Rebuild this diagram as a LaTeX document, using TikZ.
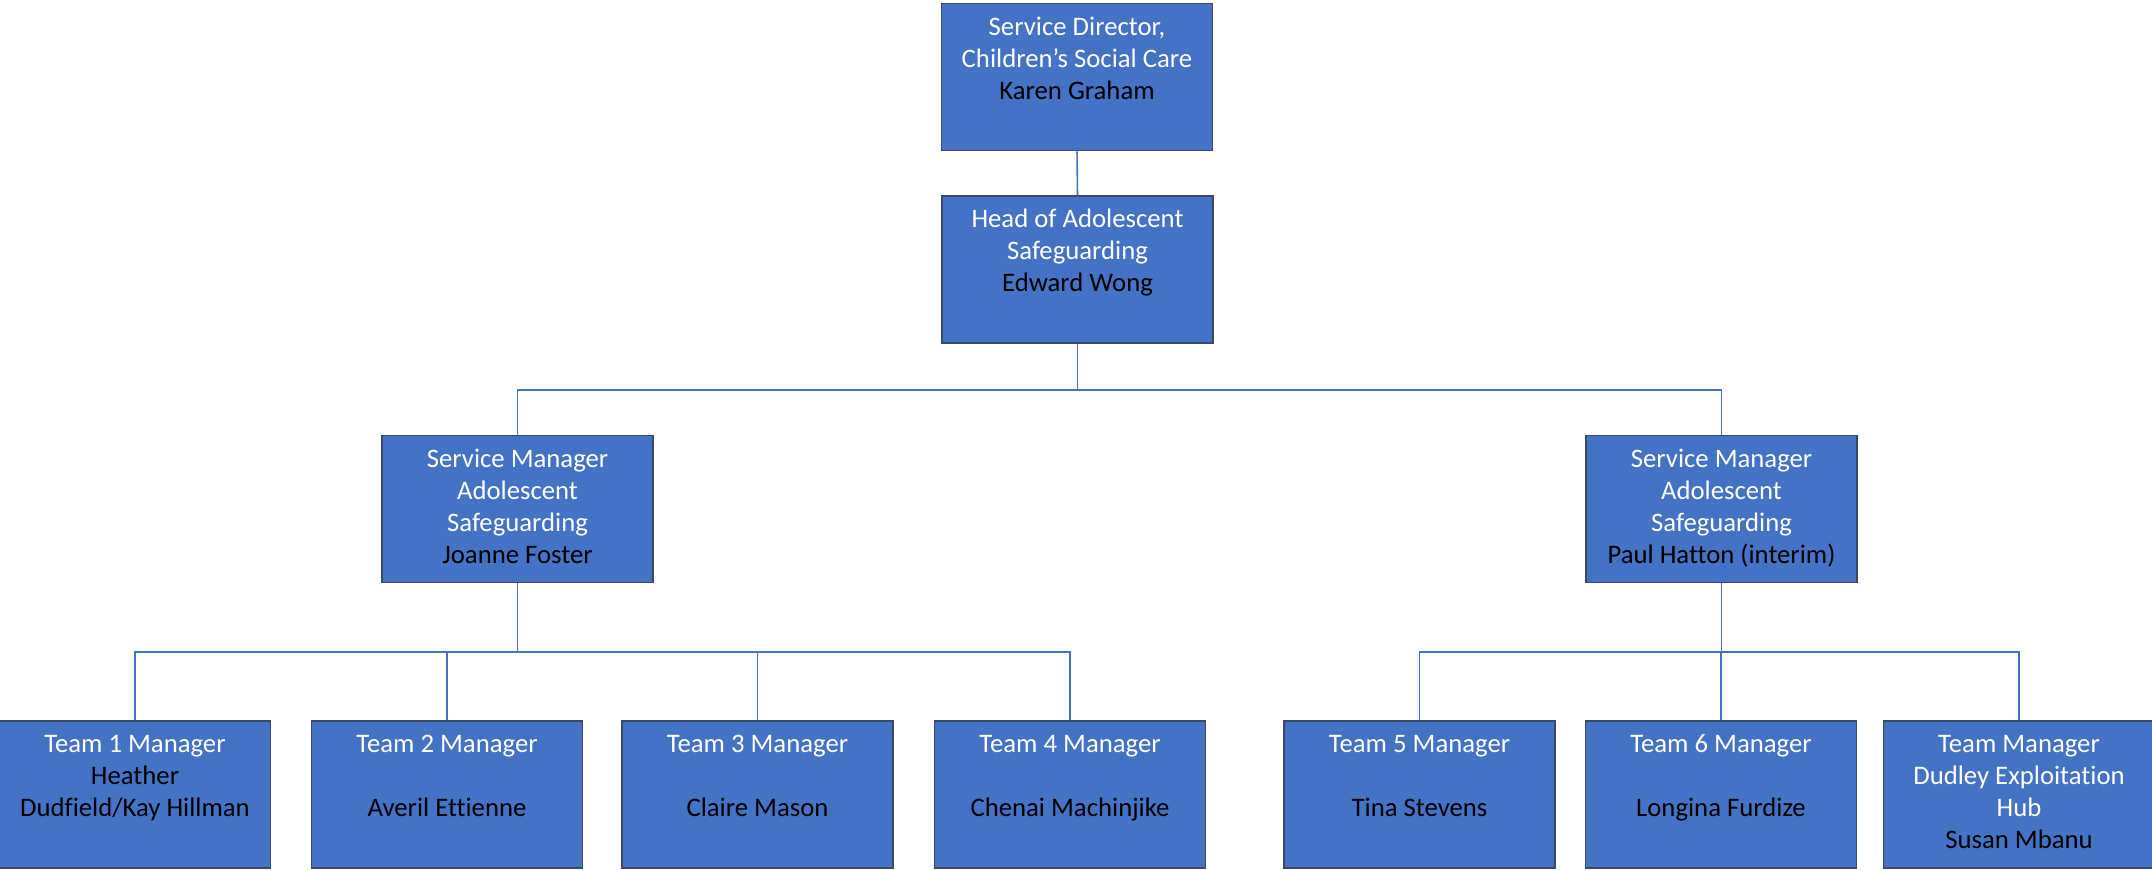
\documentclass[tikz,border=0pt]{standalone}
\usepackage{fontspec}
\setmainfont{Carlito}[Ligatures={NoCommon}]
\definecolor{boxblue}{HTML}{4472C4}
\definecolor{boxedge}{HTML}{3A4A66}
\definecolor{linkblue}{HTML}{4472C4}
\newcommand{\ttl}[1]{\textcolor{white}{\strut #1}}
\newcommand{\nm}[1]{\textcolor{black}{\strut #1}}
\begin{document}
\begin{tikzpicture}[x=0.01cm,y=-0.01cm,
  orgbox/.style={draw=boxedge,line width=0.5pt,fill=boxblue,rectangle,inner sep=0pt,
    minimum width=2.71cm,minimum height=1.47cm,align=center,
    font=\fontsize{7.6pt}{9.1pt}\selectfont},
  conn/.style={draw=linkblue,line width=0.45pt}]
\useasboundingbox (0,0) rectangle (2152,869);
% boxes
\node[orgbox] (top)  at (1077,77)    {\ttl{Service Director,}\\\ttl{Children’s Social Care}\\\nm{Karen Graham}\\\strut};
\node[orgbox] (head) at (1077.5,269.5) {\ttl{Head of Adolescent}\\\ttl{Safeguarding}\\\nm{Edward Wong}\\\strut};
\node[orgbox] (sml)  at (517.5,509)  {\ttl{Service Manager}\\\ttl{Adolescent}\\\ttl{Safeguarding}\\\nm{Joanne Foster}};
\node[orgbox] (smr)  at (1721.5,509) {\ttl{Service Manager}\\\ttl{Adolescent}\\\ttl{Safeguarding}\\\nm{Paul Hatton (interim)}};
\node[orgbox] (t1) at (135,794.5)    {\ttl{Team 1 Manager}\\\nm{Heather}\\\nm{Dudfield/Kay Hillman}\\\strut};
\node[orgbox] (t2) at (447,794.5)    {\ttl{Team 2 Manager}\\\strut\\\nm{Averil Ettienne}\\\strut};
\node[orgbox] (t3) at (757.5,794.5)  {\ttl{Team 3 Manager}\\\strut\\\nm{Claire Mason}\\\strut};
\node[orgbox] (t4) at (1070,794.5)   {\ttl{Team 4 Manager}\\\strut\\\nm{Chenai Machinjike}\\\strut};
\node[orgbox] (t5) at (1419.5,794.5) {\ttl{Team 5 Manager}\\\strut\\\nm{Tina Stevens}\\\strut};
\node[orgbox] (t6) at (1721,794.5)   {\ttl{Team 6 Manager}\\\strut\\\nm{Longina Furdize}\\\strut};
\node[orgbox] (t7) at (2019,794.5)   {\ttl{Team Manager}\\\ttl{Dudley Exploitation}\\\ttl{Hub}\\\nm{Susan Mbanu}};
% bus levels
\coordinate (bus1) at (0,390);
\coordinate (bus2) at (0,652);
% connectors
\draw[conn] (top.south) -- (head.north);
\draw[conn] (head.south) -- (head.south |- bus1);
\draw[conn] (sml.north) -- (sml.north |- bus1) -- (smr.north |- bus1) -- (smr.north);
\draw[conn] (sml.south) -- (sml.south |- bus2);
\draw[conn] (t1.north) -- (t1.north |- bus2) -- (t4.north |- bus2) -- (t4.north);
\draw[conn] (t2.north) -- (t2.north |- bus2);
\draw[conn] (t3.north) -- (t3.north |- bus2);
\draw[conn] (smr.south) -- (smr.south |- bus2);
\draw[conn] (t5.north) -- (t5.north |- bus2) -- (t7.north |- bus2) -- (t7.north);
\draw[conn] (t6.north) -- (t6.north |- bus2);
\end{tikzpicture}
\end{document}
